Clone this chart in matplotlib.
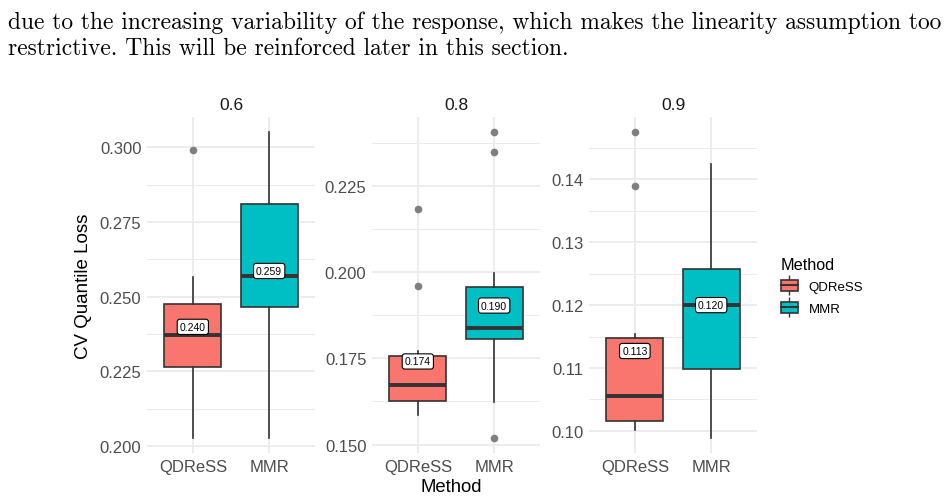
import matplotlib
matplotlib.use('Agg')
import matplotlib.pyplot as plt
from matplotlib.patches import Patch
from matplotlib.lines import Line2D
from matplotlib.legend_handler import HandlerTuple
from matplotlib.ticker import MultipleLocator, FormatStrFormatter

plt.rcParams['font.family'] = ['Liberation Sans', 'DejaVu Sans']

# facets (quantile levels) and methods
quantiles = ['0.6', '0.8', '0.9']
methods = ['QDReSS', 'MMR']
colors = ['#F8766D', '#00BFC4']

# box statistics, [QDReSS, MMR] per facet
whislo = [[0.2028, 0.2028], [0.1585, 0.1624], [0.1002, 0.0989]]
q1 = [[0.2266, 0.2464], [0.1625, 0.1807], [0.1015, 0.1098]]
med = [[0.2372, 0.2568], [0.1674, 0.1838], [0.1055, 0.1200]]
q3 = [[0.2477, 0.2810], [0.1757, 0.1956], [0.1147, 0.1257]]
whishi = [[0.2566, 0.3050], [0.1770, 0.1997], [0.1154, 0.1424]]
fliers = [[[0.2991], []],
          [[0.2183, 0.1960], [0.2405, 0.2348, 0.1520]],
          [[0.1475, 0.1389], []]]
means = [[0.2399, 0.2586], [0.1741, 0.1903], [0.1127, 0.1200]]

tick_step = [0.025, 0.025, 0.01]
tick_fmt = ['%.3f', '%.3f', '%.2f']

text1 = 'due to the increasing variability of the response, which makes the linearity assumption too'
text2 = 'restrictive. This will be reinforced later in this section.'

W, H = 947, 502
fig = plt.figure(figsize=(W / 100, H / 100), dpi=100)

# paper text above the figure
fig.text(8 / W, 1 - 23 / H, text1, family='cmr10', fontsize=16.9, va='center', ha='left')
fig.text(8 / W, 1 - 49 / H, text2, family='cmr10', fontsize=16.9, va='center', ha='left')

lefts = [147, 372, 589]
top_px, bot_px = 118, 454
for k in range(3):
    ax = fig.add_axes([lefts[k] / W, 1 - bot_px / H, 168 / W, (bot_px - top_px) / H])
    stats = []
    for j in range(2):
        stats.append(dict(whislo=whislo[k][j], q1=q1[k][j], med=med[k][j],
                          q3=q3[k][j], whishi=whishi[k][j], fliers=fliers[k][j],
                          mean=means[k][j]))
    bp = ax.bxp(stats, positions=[1, 2], widths=0.75, patch_artist=True,
                showcaps=False, showmeans=False,
                boxprops=dict(edgecolor='#333333', linewidth=1.2),
                medianprops=dict(color='#333333', linewidth=2.8),
                whiskerprops=dict(color='#333333', linewidth=1.2),
                flierprops=dict(marker='o', markerfacecolor='#7f7f7f',
                                markeredgecolor='none', markersize=5.5))
    for patch, c in zip(bp['boxes'], colors):
        patch.set_facecolor(c)
    for j in range(2):
        ax.text(j + 1, means[k][j], '%.3f' % means[k][j], ha='center', va='center',
                fontsize=7.5, color='black', zorder=5,
                bbox=dict(boxstyle='round,pad=0.25', fc='white', ec='black', lw=0.8))
    ax.set_xlim(0.4, 2.6)
    ax.set_xticks([1, 2])
    ax.set_xticklabels(methods)
    ax.yaxis.set_major_locator(MultipleLocator(tick_step[k]))
    ax.yaxis.set_minor_locator(MultipleLocator(tick_step[k] / 2))
    ax.yaxis.set_major_formatter(FormatStrFormatter(tick_fmt[k]))
    ax.tick_params(which='both', length=0, labelsize=12, labelcolor='#4D4D4D', pad=4)
    ax.grid(which='major', color='#EBEBEB', linewidth=1.3)
    ax.grid(which='minor', axis='y', color='#EBEBEB', linewidth=0.7)
    ax.set_axisbelow(True)
    for s in ax.spines.values():
        s.set_visible(False)
    ax.set_title(quantiles[k], fontsize=12.5, color='#1A1A1A', pad=6)

fig.text(83 / W, 1 - 286 / H, 'CV Quantile Loss', rotation=90, fontsize=13.5,
         ha='center', va='center')
fig.text(451 / W, 1 - 488 / H, 'Method', fontsize=13.3, ha='center', va='center')

# legend keys drawn like small boxplots: whisker stub, box, median
handles = []
for c in colors:
    handles.append((Line2D([], [], ls='none', marker='|', markersize=15,
                           markeredgecolor='#333333', markeredgewidth=1.0),
                    Patch(facecolor=c, edgecolor='#333333', linewidth=1.2),
                    Line2D([], [], color='#333333', linewidth=1.5)))
leg = fig.legend(handles, methods, title='Method', loc='upper left',
                 bbox_to_anchor=(769 / W, 1 - 246 / H), frameon=False, fontsize=9.5,
                 title_fontsize=11.7, alignment='left', handlelength=1.3,
                 handleheight=0.9, labelspacing=0.65, handletextpad=0.8,
                 handler_map={tuple: HandlerTuple(ndivide=1)})

fig.savefig('out.png', dpi=100)
